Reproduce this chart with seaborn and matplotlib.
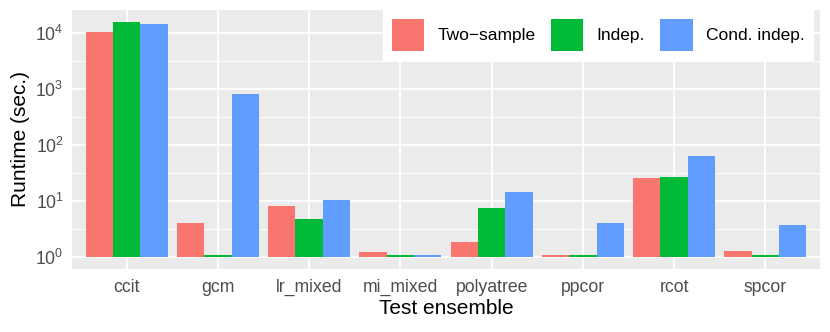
import numpy as np
import pandas as pd
import seaborn as sns
import matplotlib.pyplot as plt
from matplotlib.ticker import FixedLocator, NullFormatter

# runtimes (seconds, log scale)
ensembles = ['ccit', 'gcm', 'lr_mixed', 'mi_mixed', 'polyatree', 'ppcor', 'rcot', 'spcor']
two_sample = [10500, 4.1, 8.2, 1.23, 1.9, 1.1, 26.4, 1.3]
indep = [16000, 1.1, 4.75, 1.1, 7.5, 1.1, 27.4, 1.1]
cond_indep = [14600, 830, 10.7, 1.1, 14.4, 4.0, 64, 3.83]
test_types = ['Two\u2212sample', 'Indep.', 'Cond. indep.']
colors = ['#F8766D', '#00BA38', '#619CFF']

df = pd.DataFrame({
    'ensemble': ensembles * 3,
    'type': np.repeat(test_types, len(ensembles)),
    'runtime': two_sample + indep + cond_indep,
})

sns.set_theme(style='darkgrid')
plt.rcParams['font.family'] = ['Liberation Sans', 'DejaVu Sans']
plt.rcParams['mathtext.default'] = 'regular'

fig = plt.figure(figsize=(8.3, 3.32), dpi=100)
ax = fig.add_axes([0.0867, 0.19, 0.9013, 0.78])
ax.set_facecolor('#EBEBEB')

sns.barplot(data=df, x='ensemble', y='runtime', hue='type', order=ensembles,
            hue_order=test_types, palette=colors, width=0.9, saturation=1,
            linewidth=0, ax=ax)

ax.set_yscale('log')
# bars start at 10^0 like ggplot's log10 scale
for p in ax.patches:
    top = p.get_y() + p.get_height()
    p.set_y(1)
    p.set_height(top - 1)

ax.set_ylim(10 ** -0.21, 10 ** 4.415)
ax.set_xlim(-0.6, len(ensembles) - 0.4)
ax.yaxis.set_major_locator(FixedLocator([1, 10, 100, 1000, 10000]))
ax.yaxis.set_minor_locator(FixedLocator([10 ** (k + 0.5) for k in range(4)]))
ax.yaxis.set_minor_formatter(NullFormatter())

ax.grid(which='major', color='white', linewidth=1.3)
ax.grid(which='minor', axis='y', color='white', linewidth=0.65)
ax.set_axisbelow(True)
for s in ax.spines.values():
    s.set_visible(False)

ax.tick_params(axis='both', which='major', length=4, width=1.1, color='#333333',
               labelsize=12.7, labelcolor='#4D4D4D', pad=2)
ax.tick_params(axis='y', which='minor', length=0)
ax.tick_params(axis='x', pad=3)

ax.set_xlabel('Test ensemble', fontsize=15, color='black', labelpad=2)
ax.set_ylabel('Runtime (sec.)', fontsize=15, color='black', labelpad=4)

sns.move_legend(ax, 'upper right', bbox_to_anchor=(0.991, 1.0), ncol=3, title=None,
                frameon=True, fontsize=12.5, handlelength=1.85, handleheight=2.45,
                handletextpad=0.75, columnspacing=0.9, borderpad=0.52, borderaxespad=0,
                labelcolor='black')
leg = ax.get_legend()
leg.get_frame().set_facecolor('white')
leg.get_frame().set_edgecolor('white')
leg.get_frame().set_alpha(1)
leg.get_frame().set_boxstyle('square', pad=0)

fig.savefig('out.png', dpi=100)
